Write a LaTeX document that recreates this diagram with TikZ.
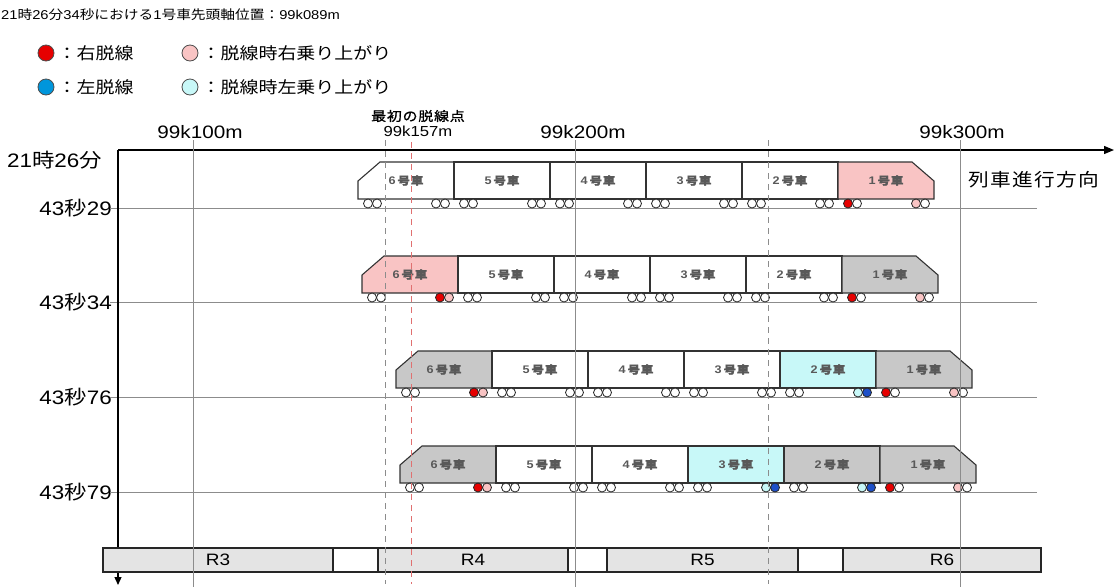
\documentclass[tikz,border=0pt]{standalone}
\usepackage{fontspec}
\setmainfont{Liberation Sans}[FakeStretch=1.15]
\newfontfamily\jp{Noto Sans CJK JP}[FakeStretch=1.15]
\newfontfamily\jpwide{Noto Sans CJK JP}[FakeStretch=1.15,LetterSpace=8]
\newfontfamily\jpcar{Noto Sans CJK JP}[FakeStretch=1.15,LetterSpace=6,FakeBold=1]
\usetikzlibrary{arrows.meta,positioning}

\definecolor{derailred}{HTML}{E60000}
\definecolor{derailblue}{HTML}{0096DC}
\definecolor{wheelblue}{HTML}{1E50C8}
\definecolor{climbpink}{HTML}{F9C4C4}
\definecolor{climbcyan}{HTML}{C8F8F8}
\definecolor{cargray}{HTML}{C8C8C8}
\definecolor{bargray}{HTML}{E4E4E4}
\definecolor{gridgray}{HTML}{8C8C8C}
\definecolor{dashred}{HTML}{E07070}

\newcommand{\train}[4]{%
  \foreach \k/\f/\whA/\whB/\whC/\whD in {#4} {
    \pgfmathsetmacro{\xl}{#2+96*\k}
    \pgfmathtruncatemacro{\n}{6-\k}
    \ifnum\k=0
      \draw[body, fill=\f] (\xl,#3+19) -- (\xl+22,#3) -- (\xl+96,#3) -- (\xl+96,#3+37) -- (\xl,#3+37) -- cycle;
    \else\ifnum\k=5
      \draw[body, fill=\f] (\xl,#3) -- (\xl+74,#3) -- (\xl+96,#3+19) -- (\xl+96,#3+37) -- (\xl,#3+37) -- cycle;
    \else
      \draw[body, fill=\f] (\xl,#3) rectangle ++(96,37);
    \fi\fi
    \node[carlabel] (#1-\n) at (\xl+48,#3+18.5) {\n\,{\jpcar 号車}};
    \foreach \dx/\w in {10/\whA,19/\whB,78/\whC,87/\whD}
      \draw[wheel, fill=\w] (\xl+\dx,#3+41.5) circle (4.5);
  }}

\begin{document}
\begin{tikzpicture}[x=1pt,y=-1pt,
  axis/.style={line width=1.3pt, black},
  grid/.style={line width=0.7pt, gridgray},
  body/.style={line width=1.1pt, draw=black!80},
  wheel/.style={line width=0.8pt, draw=black!85},
  carlabel/.style={font=\bfseries\fontsize{11}{11}\selectfont, text=black!65, inner sep=0pt},
  timelabel/.style={font=\fontsize{19.5}{19.5}\selectfont, anchor=east, inner sep=1pt},
  kmlabel/.style={font=\fontsize{18}{18}\selectfont, inner sep=0pt},
  legdot/.style={circle, draw=black!70, line width=0.8pt, minimum size=16pt, inner sep=0pt},
  legtext/.style={font=\jp\fontsize{16.5}{16.5}\selectfont, inner sep=0pt, right=3pt of #1},
  seg/.style={draw=black!85, line width=1.1pt, fill=bargray, minimum height=24pt, inner sep=0pt,
    outer sep=0pt, anchor=west, font=\fontsize{16.5}{16.5}\selectfont},
  gapseg/.style={seg, fill=white}]

\useasboundingbox (0,0) rectangle (1116,587);

\node [anchor=west, inner sep=0pt, font=\fontsize{12.8}{12.8}\selectfont] (title) at (1,15)
  {21{\jp 時}26{\jp 分}34{\jp 秒における}1{\jp 号車先頭軸位置：}99k089m};

\node [legdot, fill=derailred] (rdot) at (46,53) {};
\node [legtext=rdot] (rtext) {：右脱線};
\node [legdot, fill=climbpink] (pdot) at (190,53) {};
\node [legtext=pdot] (ptext) {：脱線時右乗り上がり};
\node [legdot, fill=derailblue] (bdot) at (46,87) {};
\node [legtext=bdot] (btext) {：左脱線};
\node [legdot, fill=climbcyan] (cdot) at (190,87) {};
\node [legtext=cdot] (ctext) {：脱線時左乗り上がり};

\node [kmlabel] (k100) at (200,132) {99k100m};
\node [kmlabel] (k200) at (583,132) {99k200m};
\node [kmlabel] (k300) at (962,132) {99k300m};
\node [font=\jpcar\fontsize{13}{13}\selectfont, inner sep=0pt] (first) at (418,116) {最初の脱線点};
\node [font=\fontsize{14.5}{14.5}\selectfont, inner sep=0pt] (k157) at (418,131) {99k157m};

\node [timelabel] (t0) at (103,160) {21{\jp 時}26{\jp 分}};
\node [timelabel] (t1) at (113,208) {43{\jp 秒}29};
\node [timelabel] (t2) at (113,302) {43{\jp 秒}34};
\node [timelabel] (t3) at (113,397) {43{\jp 秒}76};
\node [timelabel] (t4) at (113,492) {43{\jp 秒}79};
\node [anchor=west, inner sep=0pt, font=\jpwide\fontsize{18}{18}\selectfont] (dir) at (968,180) {列車進行方向};

\foreach \y in {208,302,397,492}
  \draw [grid] (110,\y) -- (1037,\y);

\train{r1}{358}{162}{0/white/white/white/white/white, 1/white/white/white/white/white,
  2/white/white/white/white/white, 3/white/white/white/white/white,
  4/white/white/white/white/white, 5/climbpink/derailred/white/climbpink/white}
\train{r2}{362}{256}{0/climbpink/white/white/derailred/climbpink, 1/white/white/white/white/white,
  2/white/white/white/white/white, 3/white/white/white/white/white,
  4/white/white/white/white/white, 5/cargray/derailred/white/climbpink/white}
\train{r3}{396}{351}{0/cargray/white/white/derailred/climbpink, 1/white/white/white/white/white,
  2/white/white/white/white/white, 3/white/white/white/white/white,
  4/climbcyan/white/white/climbcyan/wheelblue, 5/cargray/derailred/white/climbpink/white}
\train{r4}{400}{446}{0/cargray/white/white/derailred/climbpink, 1/white/white/white/white/white,
  2/white/white/white/white/white, 3/climbcyan/white/white/climbcyan/wheelblue,
  4/cargray/white/white/climbcyan/wheelblue, 5/cargray/derailred/white/climbpink/white}

\coordinate (o) at (118,150);
\coordinate (xend) at (1114,150);
\coordinate (yend) at (118,585);
\draw [axis, -{Triangle[length=10pt,width=8pt]}] (o) -- (xend);
\draw [axis, -{Triangle[length=8pt,width=7pt]}] (o) -- (yend);

\node [seg, minimum width=230pt] (R3) at (103,560) {R3};
\node [gapseg, minimum width=45pt] (g34) at (R3.east) {};
\node [seg, minimum width=190pt] (R4) at (g34.east) {R4};
\node [gapseg, minimum width=39pt] (g45) at (R4.east) {};
\node [seg, minimum width=191pt] (R5) at (g45.east) {R5};
\node [gapseg, minimum width=45pt] (g56) at (R5.east) {};
\node [seg, minimum width=198pt] (R6) at (g56.east) {R6};

\foreach \x in {193,575,960}
  \draw [grid] (\x,140) -- (\x,587);
\foreach \x in {385,768}
  \draw [grid, dash pattern=on 6pt off 5pt] (\x,140) -- (\x,584);
\draw [line width=0.8pt, dashred, dash pattern=on 6pt off 5pt] (411,142) -- (411,584);

\end{tikzpicture}
\end{document}
